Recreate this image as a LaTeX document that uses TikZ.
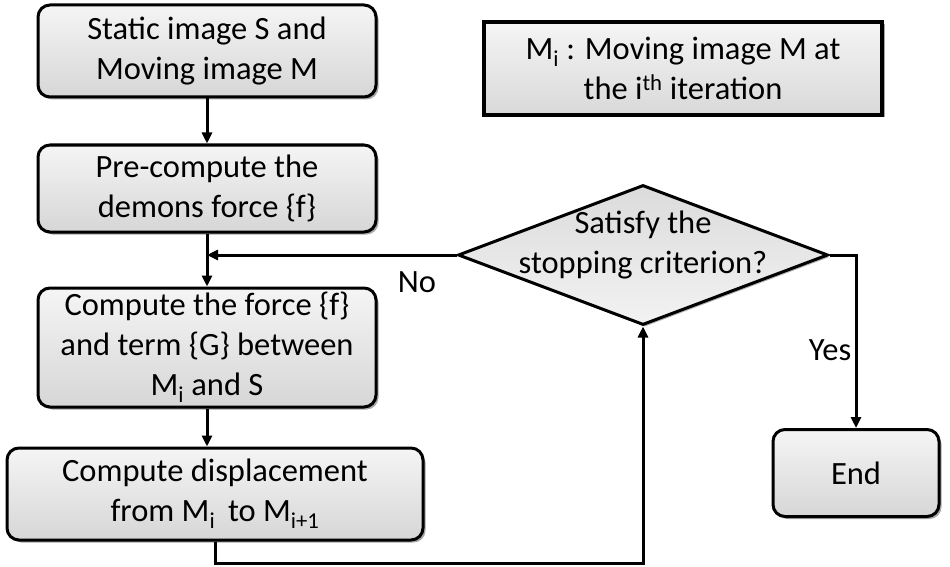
\documentclass[tikz,border=0pt]{standalone}
\usepackage{fontspec}
\setmainfont{Carlito}
\usetikzlibrary{shapes.geometric,arrows.meta,shadows}
\begin{document}
\begin{tikzpicture}[x=1pt,y=-1pt,
  txt/.style={font=\fontsize{32.5}{40}\selectfont, align=center, inner sep=0pt},
  box/.style={txt, draw=black, line width=3pt, rounded corners=12pt,
     top color=gray!8, bottom color=gray!32,
     drop shadow={shadow xshift=2.5pt, shadow yshift=-2.5pt, opacity=0.35, fill=black}},
  legendbox/.style={txt, draw=black, line width=3.5pt,
     top color=gray!8, bottom color=gray!30,
     drop shadow={shadow xshift=2.5pt, shadow yshift=-2.5pt, opacity=0.35, fill=black}},
  decision/.style={diamond, draw=black, line width=3pt, inner sep=0pt,
     top color=gray!28, bottom color=gray!10,
     drop shadow={shadow xshift=2pt, shadow yshift=-2pt, opacity=0.3, fill=black}},
  arr/.style={line width=3pt, -{Triangle[length=11pt,width=10pt]}},
  ln/.style={line width=3pt}
]
\useasboundingbox (0,0) rectangle (950,567);

\node[box, minimum width=338pt, minimum height=92pt] (b1) at (207,51)
  {Static image S and\\Moving image M};
\node[box, minimum width=338pt, minimum height=87pt] (b2) at (207,188.5)
  {Pre-compute the\\demons force \{f\}};
\node[box, minimum width=338pt, minimum height=119pt] (b3) at (207,347.5)
  {Compute the force \{f\}\\and term \{G\} between\\M\textsubscript{i} and S};
\node[box, minimum width=416pt, minimum height=92pt] (b4) at (215,494)
  {Compute displacement\\from M\textsubscript{i}\, to M\textsubscript{i+1}};

\node[decision, minimum width=370pt, minimum height=140pt] (dia) at (643,255) {};
\node[txt] (diat) at (643,245) {Satisfy the\\stopping criterion?};

\node[box, minimum width=166pt, minimum height=87pt] (end) at (856,473) {End};

\node[legendbox, minimum width=398pt, minimum height=93pt] (leg) at (683,68.5)
  {M\textsubscript{i} : Moving image M at\\the i\textsuperscript{th} iteration};

\coordinate (bot) at (0,563);
\coordinate (join) at (b2.south |- dia.west);

\draw[arr] (b1) -- (b2);
\draw[ln] (b2.south) -- (join);
\draw[arr] (join) -- (b3);
\draw[arr] (dia.west) -- (join);
\draw[arr] (b3.south) -- (b3.south |- b4.north);
\draw[arr] (b4.south) -- (b4.south |- bot) -| (dia.south);
\draw[arr] (dia.east) -| (end.north);

\node[txt] (no) at (417,282) {No};
\node[txt] (yes) at (830,350) {Yes};
\end{tikzpicture}
\end{document}
